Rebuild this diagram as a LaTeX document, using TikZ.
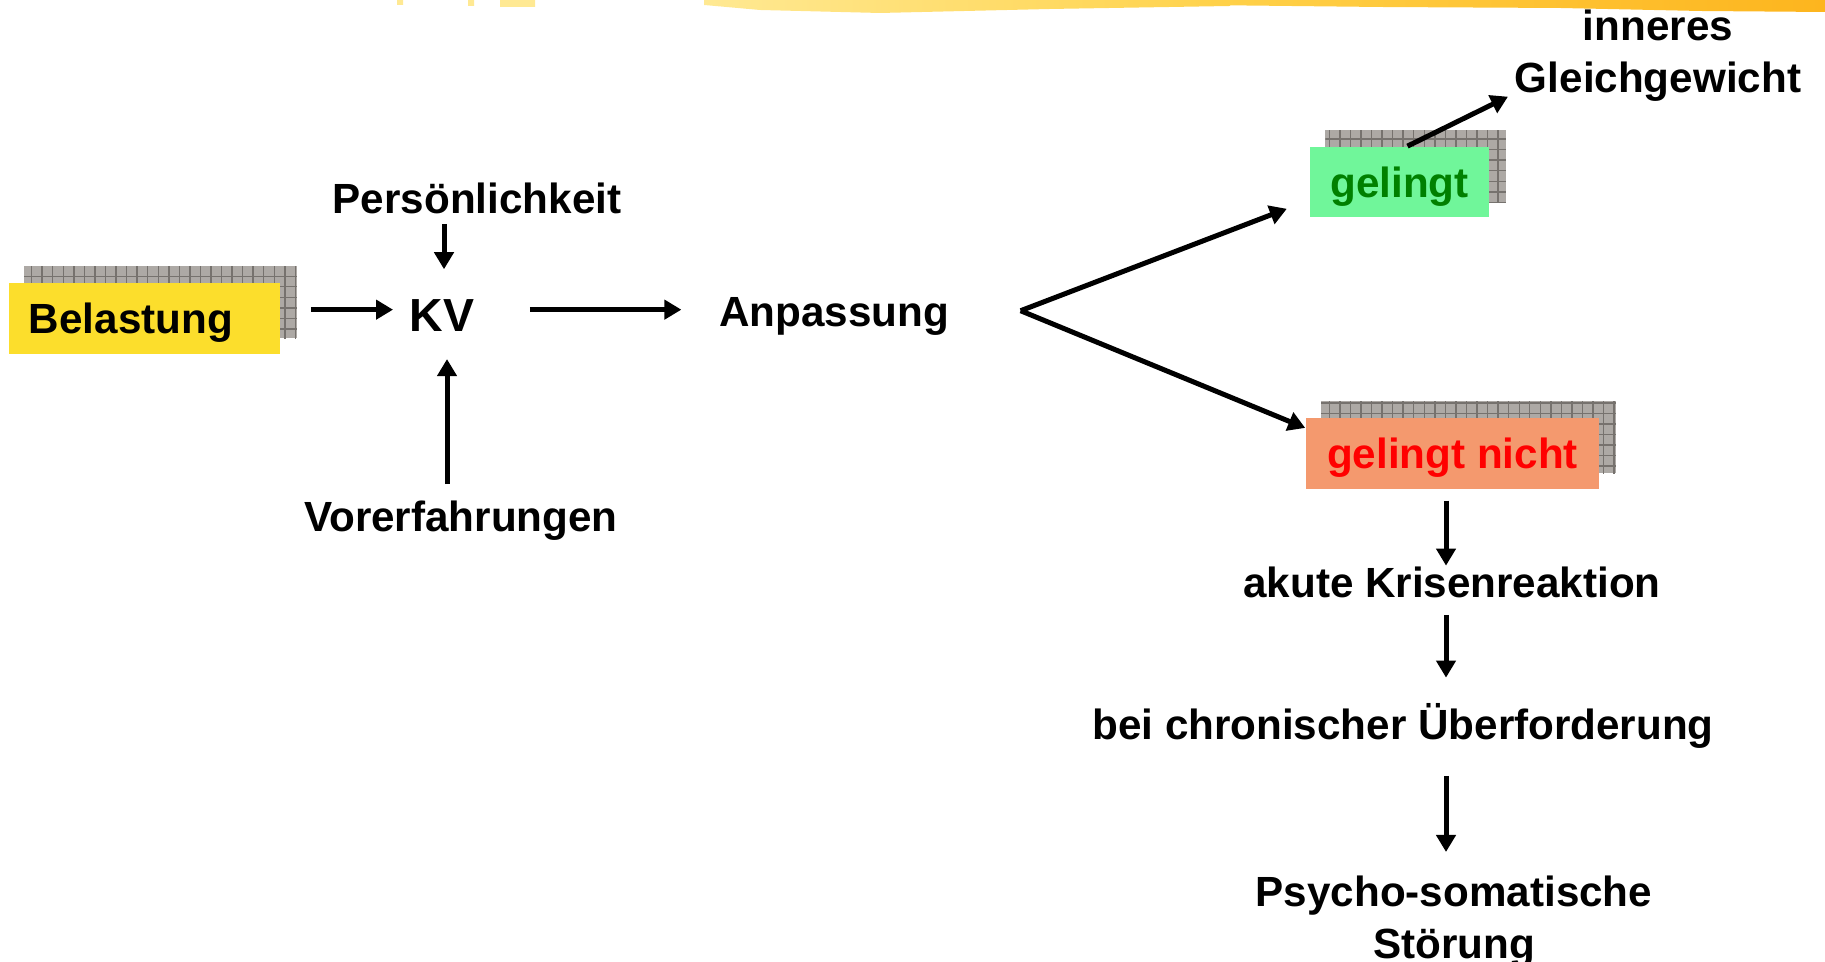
\documentclass[tikz,border=0pt]{standalone}
\usepackage{fontspec}
\setmainfont{Liberation Sans}
\usepackage{tikz}
\usetikzlibrary{arrows.meta,calc,patterns,backgrounds}

\definecolor{belgelb}{HTML}{FCDE2C}
\definecolor{gelgruen}{HTML}{70F69A}
\definecolor{txtgruen}{HTML}{008000}
\definecolor{gnlachs}{HTML}{F4996E}
\definecolor{schatten}{HTML}{ADA9A5}
\definecolor{gitter}{HTML}{76726E}
\definecolor{pinsel1}{HTML}{FFE993}
\definecolor{pinsel2}{HTML}{FDB51E}
\definecolor{pinsel3}{HTML}{FFD24A}

\tikzset{
  lbl/.style={font=\fontsize{12}{14.8}\selectfont\bfseries, inner sep=0pt},
  one/.style={lbl, text height=9pt, text depth=2.6pt, anchor=base},
  feld/.style={lbl, text height=9pt, text depth=0pt, inner ysep=0.195cm, anchor=base},
  sdw/.style={pattern=grid, pattern color=gitter},
  pfeil/.style={-{Triangle[length=0.17cm,width=0.19cm]}, line width=0.05cm},
}

\begin{document}
\begin{tikzpicture}[x=0.01cm, y=-0.01cm]
    \useasboundingbox (0,0) rectangle (1825,962) ;
    \fill [pinsel1] (397,0) rectangle (403,5) (468,0) rectangle (474,6)
      (500,0) rectangle (535,7) ;
    \shade [left color=pinsel1, right color=pinsel3] (704,0) -- (1230,0)
      -- (1230,6) -- (1050,9) -- (880,13) -- (760,10) -- (704,5) -- cycle ;
    \shade [left color=pinsel3, right color=pinsel2] (1200,0) -- (1825,0)
      -- (1825,12) -- (1700,11) -- (1560,8) -- (1380,7) -- (1200,5) -- cycle ;

    \node [feld, fill=belgelb, text width=2.31cm, inner xsep=0.2cm,
      align=left] (bel) at (144.5,334) {Belastung} ;
    \node [feld, fill=gelgruen, text=txtgruen, minimum width=1.79cm]
      (gel) at (1399.5,198) {gelingt} ;
    \node [feld, fill=gnlachs, text=red, minimum width=2.93cm]
      (gn) at (1452.5,469) {gelingt nicht} ;
    \begin{scope}[on background layer]
      \foreach \b in {bel,gel,gn} {
        \fill [schatten] ([shift={(0.16cm,0.16cm)}]\b.south west) rectangle
          ([shift={(0.16cm,0.16cm)}]\b.north east) ;
        \path [sdw] ([shift={(0.16cm,0.16cm)}]\b.south west) rectangle
          ([shift={(0.16cm,0.16cm)}]\b.north east) ;
      }
    \end{scope}

    \node [one] (pers) at (477,214) {Persönlichkeit} ;
    \node [lbl, font=\fontsize{13.2}{15}\selectfont\bfseries,
      text height=13.2pt, text depth=0.5pt, inner xsep=0.16cm,
      inner ysep=0.156cm, anchor=base] (kv) at (442,332) {KV} ;
    \node [one] (anp) at (834,327) {Anpassung} ;
    \node [one] (vor) at (461,532) {Vorerfahrungen} ;
    \node [lbl, align=center, anchor=north] (gg) at (1658,9)
      {inneres\\Gleichgewicht} ;
    \node [one] (akut) at (1452,598) {akute Krisenreaktion} ;
    \node [one] (chron) at (1403,740) {bei chronischer Überforderung} ;
    \node [lbl, align=center, anchor=north] (psy) at (1454,875)
      {Psycho-somatische\\Störung} ;
    \coordinate (gabel) at ([xshift=0.71cm,yshift=0.05cm]anp.east) ;

    \draw [pfeil, shorten <=0.3cm] (bel.east |- kv.west) -- (kv.west) ;
    \draw [pfeil, shorten <=0.39cm, shorten >=0.37cm] (kv.east)
      -- (kv.east -| anp.west) ;
    \draw [pfeil] ([xshift=0.02cm]pers.south -| kv.north)
      -- ([xshift=0.02cm]kv.north) ;
    \draw [pfeil, shorten <=0.155cm, shorten >=0.09cm]
      ([xshift=0.05cm]vor.north -| kv.south) -- ([xshift=0.05cm]kv.south) ;
    \draw [pfeil, shorten >=0.24cm] (gabel)
      -- ($(gel.west)!0.5!(gel.south west)$) ;
    \draw [pfeil] (gabel) -- ($(gn.north west)!0.15!(gn.south west)$) ;
    \draw [pfeil, shorten >=0.07cm] ([xshift=0.08cm]gel.north)
      -- ($(gg.south west)!0.09!(gg.north west)$) ;
    \draw [pfeil, shorten <=0.115cm] ([xshift=-0.065cm]gn.south)
      -- ([xshift=-0.065cm]gn.south |- akut.north) ;
    \draw [pfeil, shorten <=0.07cm, shorten >=0.3cm] ([xshift=-0.06cm]akut.south)
      -- ([xshift=-0.06cm]akut.south |- chron.north) ;
    \draw [pfeil, shorten <=0.26cm, shorten >=0.23cm]
      ([xshift=-0.08cm]psy.north |- chron.south) -- ([xshift=-0.08cm]psy.north) ;
  \end{tikzpicture}
\end{document}
